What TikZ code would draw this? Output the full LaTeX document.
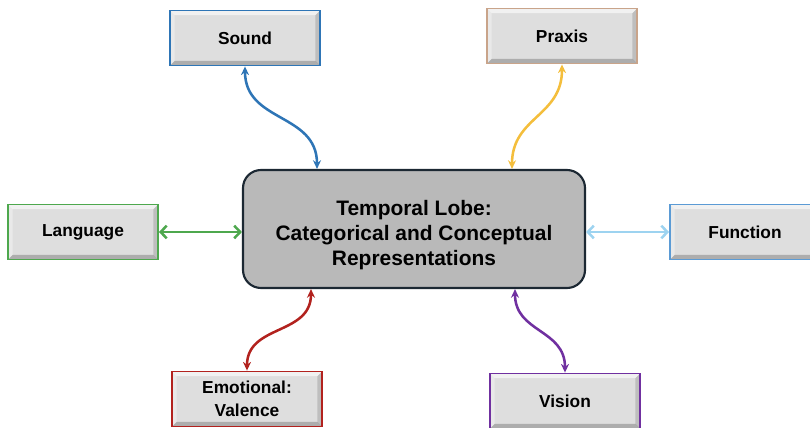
\documentclass[tikz,border=0pt]{standalone}
\usepackage{fontspec}
\setmainfont{Liberation Sans}
\usetikzlibrary{arrows.meta, positioning}
\definecolor{boxgray}{HTML}{DEDEDE}
\definecolor{coregray}{HTML}{B9B9B9}
\definecolor{coreline}{HTML}{1C2833}
\definecolor{soundblue}{HTML}{2E75B6}
\definecolor{praxisline}{HTML}{C9A48A}
\definecolor{praxisgold}{HTML}{F4BE3C}
\definecolor{langgreen}{HTML}{4EA84E}
\definecolor{funcline}{HTML}{5B9BD5}
\definecolor{funcblue}{HTML}{9DD3F0}
\definecolor{emored}{HTML}{B2221E}
\definecolor{visionpurple}{HTML}{7030A0}

\begin{document}
\begin{tikzpicture}[x=0.75pt, y=-0.75pt,
    box/.style={draw=#1, line width=1.4pt, fill=boxgray, minimum width=112.5pt,
        minimum height=41.25pt, align=center, inner sep=0pt,
        font=\bfseries\fontsize{13}{17.5}\selectfont,
        path picture={
          \fill[white, opacity=.6] (path picture bounding box.north west) -- (path picture bounding box.north east)
            -- ++(-3.5pt,-3.5pt) -- ([shift={(3.5pt,-3.5pt)}]path picture bounding box.north west) -- cycle;
          \fill[white, opacity=.35] (path picture bounding box.north west) -- (path picture bounding box.south west)
            -- ++(3.5pt,3.5pt) -- ([shift={(3.5pt,-3.5pt)}]path picture bounding box.north west) -- cycle;
          \fill[black, opacity=.22] (path picture bounding box.south west) -- (path picture bounding box.south east)
            -- ++(-3.5pt,3.5pt) -- ([shift={(3.5pt,3.5pt)}]path picture bounding box.south west) -- cycle;
          \fill[black, opacity=.14] (path picture bounding box.north east) -- (path picture bounding box.south east)
            -- ++(-3.5pt,3.5pt) -- ([shift={(-3.5pt,-3.5pt)}]path picture bounding box.north east) -- cycle;
        }},
    core/.style={draw=coreline, line width=1.6pt, fill=coregray, rounded corners=13.5pt,
        minimum width=256.5pt, minimum height=88.5pt, align=center,
        font=\bfseries\fontsize{15.7}{18.8}\selectfont},
    link/.style={line width=1.9pt, looseness=1.15,
        {Stealth[length=6.5pt,width=6pt]}-{Stealth[length=6.5pt,width=6pt]}},
    flat/.style={line width=1.9pt, {Straight Barb[length=4.5pt,width=9.5pt]}-{Straight Barb[length=4.5pt,width=9.5pt]}}]
    \useasboundingbox (0,0) rectangle (810,428);
    \node[core] (tl) at (414, 229) {\rule{0pt}{20pt}Temporal Lobe:\\Categorical and Conceptual\\Representations};
    \node[box=soundblue] (sound) at (245, 38) {Sound};
    \node[box=praxisline] (praxis) at (562, 36) {Praxis};
    \node[box=langgreen] (lang) at (83, 232) {Language};
    \node[box=funcline] (func) at (745, 232) {Function};
    \node[box=emored] (emo) at (247, 399) {Emotional:\\Valence};
    \node[box=visionpurple] (vision) at (565, 401) {Vision};
    \draw[link, soundblue] (sound.south) to[out=-90, in=90] ([xshift=-72.75pt]tl.north);
    \draw[link, praxisgold] (praxis.south) to[out=-90, in=90] ([xshift=73.5pt]tl.north);
    \draw[link, emored] ([xshift=-77.25pt]tl.south) to[out=-90, in=90] (emo.north);
    \draw[link, visionpurple] ([xshift=75.75pt]tl.south) to[out=-90, in=90] (vision.north);
    \draw[flat, langgreen] (lang.east) -- (lang.east -| tl.west);
    \draw[flat, funcblue] (tl.east |- func.west) -- (func.west);
\end{tikzpicture}
\end{document}
